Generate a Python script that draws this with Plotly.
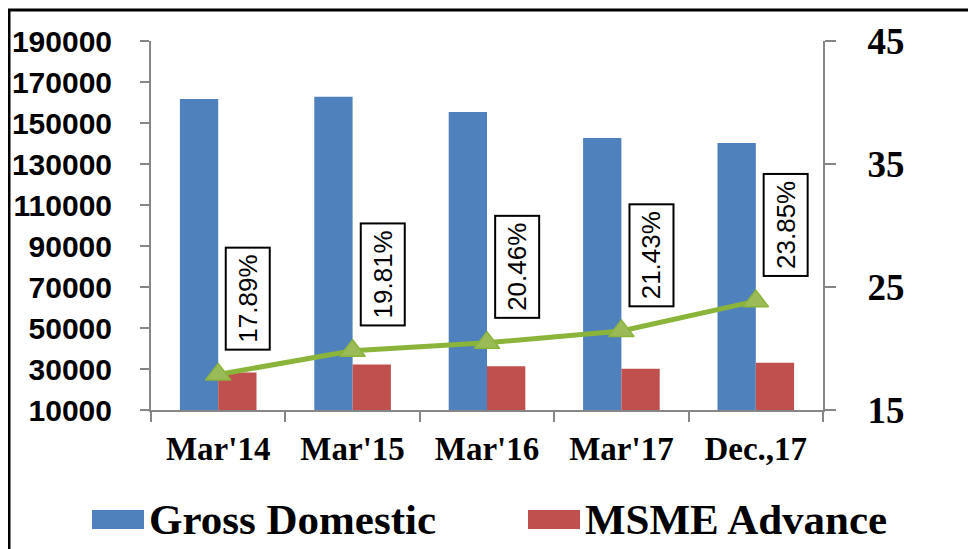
import plotly.graph_objects as go

# data
periods = ["Mar'14", "Mar'15", "Mar'16", "Mar'17", "Dec.,17"]
gross_domestic = [161700, 162800, 155400, 142700, 140200]
msme_advance = [28300, 32200, 31400, 30100, 33000]
msme_share = [17.89, 19.81, 20.46, 21.43, 23.85]

left_ticks = [10000, 30000, 50000, 70000, 90000, 110000, 130000, 150000, 170000, 190000]
right_ticks = [15, 25, 35, 45]

BLUE = "#4F81BD"
RED = "#C0504D"
GREEN = "#8BB43A"
AXIS = "#868686"

# page body has an 8px margin, so the figure starts at (8, 8) on screen;
# left/top margins are taken from the reference minus that offset
OFF = 8
W, H = 976 - OFF, 549 - OFF
L, R, T, B = 151 - OFF, 153, 41 - OFF, 139
pw, ph = W - L - R, H - T - B


def px(x):
    return (x - OFF - L) / pw


def py(y):
    return (H - B - (y - OFF)) / ph


fig = go.Figure()

fig.add_trace(go.Bar(
    x=periods, y=[v - 10000 for v in gross_domestic], base=10000,
    name="Gross Domestic", marker=dict(color=BLUE, line=dict(width=0)),
    showlegend=False))
fig.add_trace(go.Bar(
    x=periods, y=[v - 10000 for v in msme_advance], base=10000,
    name="MSME Advance", marker=dict(color=RED, line=dict(width=0)),
    showlegend=False))
fig.add_trace(go.Scatter(
    x=periods, y=msme_share, yaxis="y2", mode="lines+markers",
    line=dict(color=GREEN, width=5),
    marker=dict(symbol="triangle-up", size=22, color="#9BBB59",
                line=dict(color="#8AB53A", width=1.5)),
    showlegend=False))

# boxed, rotated percentage labels
for p, v in zip(periods, msme_share):
    fig.add_annotation(
        x=p, y=v, yref="y2", text=f"{v:.2f}%", showarrow=False,
        textangle=-90, xanchor="center", yanchor="bottom",
        xshift=30, yshift=24,
        font=dict(family="Liberation Sans", size=26, color="black"),
        bgcolor="white", bordercolor="black", borderwidth=2, borderpad=6)

# legend drawn by hand so the swatches match the wide Office style
legend_items = [("Gross Domestic", BLUE, 92), ("MSME Advance", RED, 528)]
for name, col, x0 in legend_items:
    fig.add_shape(type="rect", xref="paper", yref="paper",
                  x0=px(x0), x1=px(x0 + 52), y0=py(529), y1=py(510),
                  fillcolor=col, line=dict(width=0))
    fig.add_annotation(xref="paper", yref="paper", x=px(x0 + 55), y=py(519),
                       text=name, showarrow=False, xanchor="left", yanchor="middle",
                       font=dict(family="Liberation Serif", size=43, color="black",
                                 weight="bold"))

# outer frame (right and bottom edges sit off the canvas)
fig.add_shape(type="rect", xref="paper", yref="paper",
              x0=px(9), x1=px(1030), y0=py(600), y1=py(10),
              line=dict(color="black", width=3), fillcolor="rgba(0,0,0,0)")

fig.update_layout(
    width=W, height=H,
    margin=dict(l=L, r=R, t=T, b=B, autoexpand=False),
    paper_bgcolor="white", plot_bgcolor="white",
    barmode="group", bargap=0.43, bargroupgap=0,
    xaxis=dict(
        showline=True, linecolor=AXIS, linewidth=2,
        ticks="outside", tickson="boundaries", ticklen=10, tickcolor=AXIS, tickwidth=2,
        tickfont=dict(family="Liberation Serif", size=33, color="black", weight="bold"),
        ticklabelstandoff=8),
    yaxis=dict(
        range=[10000, 190000], tickvals=left_ticks, tickformat="d",
        showgrid=False, zeroline=False,
        showline=True, linecolor=AXIS, linewidth=2,
        ticks="outside", ticklen=9, tickcolor=AXIS, tickwidth=2,
        tickfont=dict(family="Liberation Sans", size=30, color="black", weight="bold"),
        ticklabelstandoff=22),
    yaxis2=dict(
        range=[15, 45], tickvals=right_ticks, overlaying="y", side="right",
        showgrid=False, zeroline=False,
        showline=True, linecolor=AXIS, linewidth=2,
        ticks="outside", ticklen=11, tickcolor=AXIS, tickwidth=2,
        tickfont=dict(family="Liberation Serif", size=37, color="black", weight="bold"),
        ticklabelstandoff=24),
)

fig.write_html("out.html")
